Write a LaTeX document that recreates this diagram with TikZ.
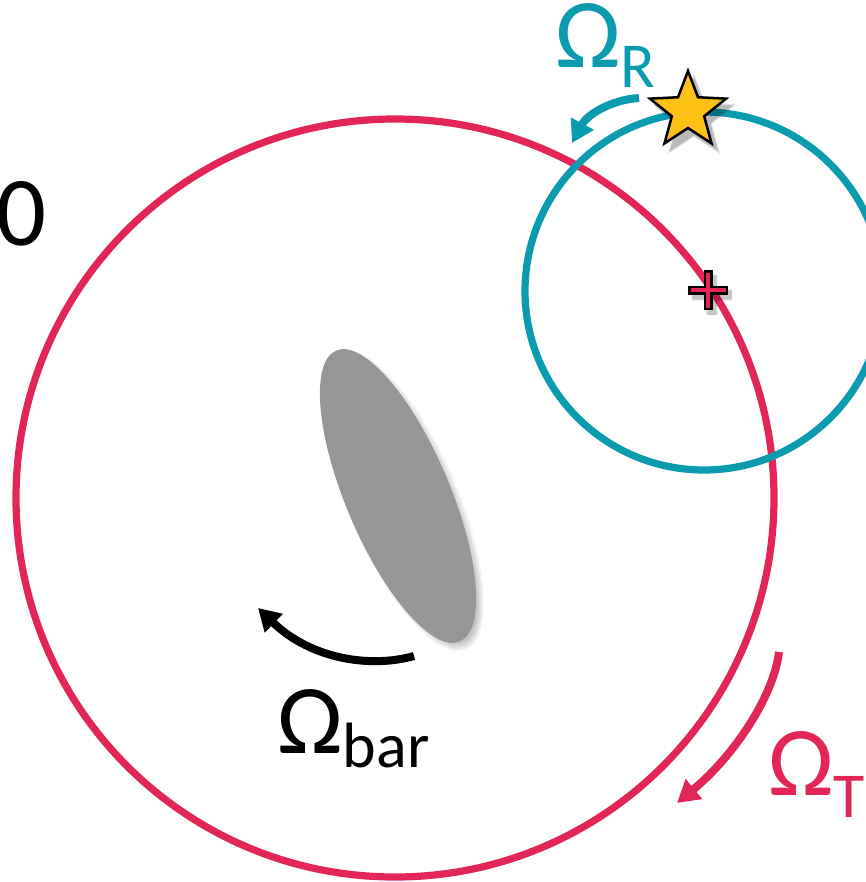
\documentclass[tikz,border=0pt]{standalone}
\usepackage{fontspec}
\setmainfont{Carlito}
\usetikzlibrary{arrows.meta}
\definecolor{cred}{RGB}{227,38,88}
\definecolor{cteal}{RGB}{10,155,175}
\definecolor{cgray}{RGB}{150,150,150}
\definecolor{cstar}{RGB}{255,193,20}
\tikzset{
  orbit/.style={line width=5.4pt},
  rotarrow/.style={line width=6pt,-{Triangle[length=16.5pt,width=18.5pt]}},
  bigtext/.style={inner sep=0pt,font=\fontsize{74pt}{80pt}\selectfont},
}
\newcommand{\subtxt}[2]{\raisebox{-#1}{\fontsize{48pt}{52pt}\selectfont #2}}
\newcommand{\starpath}{(90:40) -- (126:17) -- (162:40) -- (198:17) -- (234:40) -- (270:17) -- (306:40) -- (342:17) -- (18:40) -- (54:17) -- cycle}
\begin{document}
\begin{tikzpicture}[x=0.75pt,y=0.75pt]
\useasboundingbox (0,0) rectangle (866,-882);
\clip (0,0) rectangle (866,-882);
\fill[white] (0,0) rectangle (866,-882);
% bar shadow (soft)
\foreach \k in {0,...,7}{
  \fill[black,opacity=0.03] (403,-501) ellipse [x radius={47+\k*1.2}, y radius={153+\k*1.2}, rotate=23];
}
% bar
\fill[cgray] (398,-496) ellipse [x radius=52, y radius=158, rotate=23];
% orbits
\draw[orbit,cred] (395,-498) circle (379);
\draw[orbit,cteal] (704,-291) circle (179);
% plus sign with shadow
\begin{scope}[shift={(708,-290)}]
  \foreach \k in {0,...,3}{
    \draw[black,opacity=0.06,line width={6pt+\k*0.8pt}] (-16,-5) -- (24,-5) (4,15) -- (4,-25);
  }
  \draw[black,line width=6.75pt] (-20,0) -- (20,0) (0,20) -- (0,-20);
  \draw[cred,line width=2.6pt] (-17.5,0) -- (17.5,0) (0,17.5) -- (0,-17.5);
\end{scope}
% star with soft shadow
\foreach \k in {0,...,4}{
  \fill[black,opacity=0.06,shift={(694,-118)},scale={1+\k*0.03}] \starpath;
}
\filldraw[fill=cstar,draw=black,line width=1.9pt,line join=miter,shift={(688,-111)}] \starpath;
\coordinate (starnode) at (688,-111);
% rotation arrows
\coordinate (rs) at (639,-98);
\coordinate (re) at (572,-143);
\draw[rotarrow,cteal] (rs) .. controls (610,-100) and (587,-115) .. (re);
\coordinate (bs) at (414,-656);
\coordinate (be) at (258,-608);
\draw[rotarrow,black] (bs) .. controls (372,-668) and (312,-660) .. (be);
\coordinate (ts) at (779,-652);
\coordinate (te) at (677,-803);
\draw[rotarrow,cred] (ts) .. controls (774,-695) and (735,-755) .. (te);
% labels
\node[bigtext,anchor=base west,text=cteal] (lR) at (555,-67) {Ω\subtxt{15pt}{R}};
\node[bigtext,anchor=base west,text=black] (lbar) at (277,-753) {Ω\subtxt{10.5pt}{bar}};
\node[bigtext,anchor=base west,text=cred] (lT) at (768,-795) {Ω\subtxt{16.5pt}{T}};
\node[bigtext,anchor=base west,text=black] (l0) at (-4,-245) {0};
\end{tikzpicture}
\end{document}
